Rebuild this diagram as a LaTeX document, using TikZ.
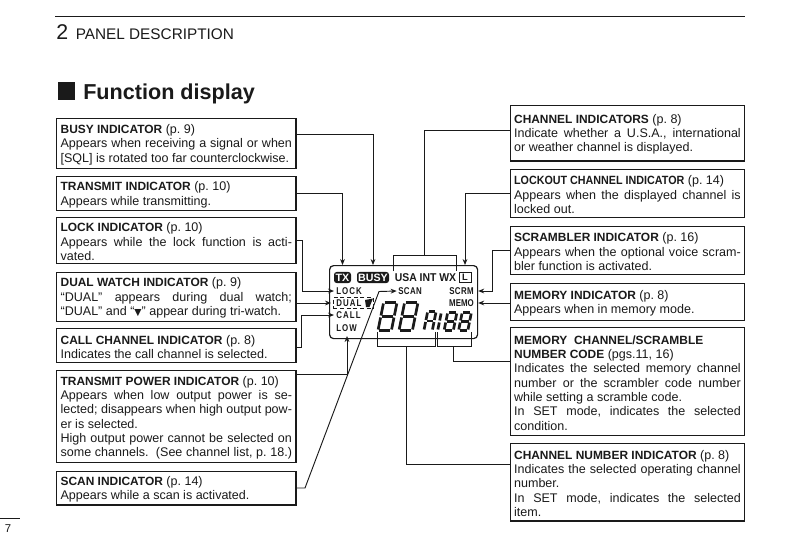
\documentclass[tikz,border=0pt]{standalone}
\usepackage{fontspec}
\usepackage{graphicx}
\setmainfont{Liberation Sans}
\newfontfamily\symf{DejaVu Sans}
\usetikzlibrary{arrows.meta}
\definecolor{ink}{HTML}{1A1A1A}
\newcommand\JL[1]{\leavevmode\hbox to \hsize{#1}\par}
\newcommand\LL[1]{\leavevmode\hbox to \hsize{#1\hss}\par}
\newcommand\HB[1]{{\fontsize{8.95}{10.75}\selectfont\bfseries #1}}
\newcommand\HD[2]{\leavevmode\hbox to \hsize{\HB{#1} #2\hss}\par}
\newcommand\lcdtxt[2][14]{\scalebox{0.8}[1]{\fontsize{7.4}{9}\selectfont\bfseries\addfontfeature{LetterSpace=#1}#2}}
\def\segT{\draw[lcdseg] (-\W+\G,-\H)--(\W-\G,-\H);}
\def\segM{\draw[lcdseg] (-\W+\G,0)--(\W-\G,0);}
\def\segB{\draw[lcdseg] (-\W+\G,\H)--(\W-\G,\H);}
\def\segLU{\draw[lcdseg] (-\W,-\H+\G)--(-\W,-\G);}
\def\segLD{\draw[lcdseg] (-\W,\G)--(-\W,\H-\G);}
\def\segRU{\draw[lcdseg] (\W,-\H+\G)--(\W,-\G);}
\def\segRD{\draw[lcdseg] (\W,\G)--(\W,\H-\G);}
\newcommand\lcddigit[5]{\begin{scope}[shift={(#1,#2)},xslant=0.2]
\def\W{#3}\def\H{#4}\def\G{1}
\foreach \s in {#5}{\csname seg\s\endcsname}
\end{scope}}
\tikzset{
 x=0.75pt,y=-0.75pt,
 infobox/.style={draw=ink,line width=0.95pt,anchor=north west,inner xsep=3pt,inner ysep=0pt,
   align=left,font=\fontsize{9.4}{10.75}\selectfont,text=ink,
   execute at begin node={\spaceskip=0pt\xspaceskip=0pt\frenchspacing\par\vspace*{-2.3pt}}},
 conn/.style={draw=ink,line width=0.7pt},
 arr/.style={conn,-{Stealth[length=4.5pt,width=3.6pt]}},
 lcdlabel/.style={inner sep=0pt,text=ink},
 lcdseg/.style={draw=ink,line width=2pt},
 pill/.style={fill=ink,text=white,rounded corners=2pt,inner sep=0pt,minimum height=8.3pt,
   font=\fontsize{8}{9}\selectfont\bfseries},
}
\begin{document}
\begin{tikzpicture}
\useasboundingbox (0,0) rectangle (793,558);
\fill[white] (0,0) rectangle (793,558);
% header
\coordinate (ruleL) at (55,16.5);
\coordinate (ruleR) at (745,16.5);
\draw[ink,line width=1.3pt] (ruleL)--(ruleR);
\node[anchor=base west,inner sep=0pt,text=ink,font=\fontsize{16}{18}\selectfont] (chap) at (56,39.3) {2};
\node[anchor=base west,inner sep=0pt,text=ink,font=\fontsize{11.5}{14}\selectfont] (chapt) at (75.5,39.3) {PANEL DESCRIPTION};
\node[anchor=north west,fill=ink,inner sep=0pt,minimum width=12.75pt,minimum height=13.5pt] (sq) at (58,82) {};
\node[anchor=base west,inner sep=0pt,text=ink,font=\fontsize{16.2}{18}\selectfont\bfseries] (title) at (83,99) {Function display};
% footer
\coordinate (fL) at (0,518.5);
\coordinate (fR) at (20,518.5);
\draw[ink,line width=0.6pt] (fL)--(fR);
\node[inner sep=0pt,text=ink,font=\fontsize{8.5}{10}\selectfont] (pg) at (8,529) {7};
% left boxes
\node[infobox,text width=173.5pt,minimum height=37.5pt] (busy) at (56,118) {%
 \HD{BUSY INDICATOR}{(p. 9)}\JL{Appears when receiving a signal or when}\LL{[SQL] is rotated too far counterclockwise.}};
\node[infobox,text width=173.5pt,minimum height=25.5pt] (tx) at (56,176) {%
 \HD{TRANSMIT INDICATOR}{(p. 10)}\LL{Appears while transmitting.}};
\node[infobox,text width=173.5pt,minimum height=34.5pt] (lock) at (56,217) {%
 \HD{LOCK INDICATOR}{(p. 10)}\JL{Appears while the lock function is acti-}\LL{vated.}};
\node[infobox,text width=173.5pt,minimum height=37pt] (dual) at (56,271.5) {%
 \HD{DUAL WATCH INDICATOR}{(p. 9)}\JL{“DUAL” appears during dual watch;}\LL{“DUAL” and “{\symf\scalebox{0.75}{▼}}” appear during tri-watch.}};
\node[infobox,text width=173.5pt,minimum height=25.5pt] (call) at (56,328) {%
 \HD{CALL CHANNEL INDICATOR}{(p. 8)}\LL{Indicates the call channel is selected.}};
\node[infobox,text width=173.5pt,minimum height=69pt] (power) at (56,370) {%
 \HD{TRANSMIT POWER INDICATOR}{(p. 10)}\JL{Appears when low output power is se-}\JL{lected; disappears when high output pow-}\LL{er is selected.}\JL{High output power cannot be selected on}\JL{some channels.\ \ (See channel list, p. 18.)}};
\node[infobox,text width=173.5pt,minimum height=25pt] (scan) at (56,471) {%
 \HD{SCAN INDICATOR}{(p. 14)}\LL{Appears while a scan is activated.}};
% right boxes
\node[infobox,text width=170pt,minimum height=41.5pt] (chan) at (509.5,105) {%
 \HD{CHANNEL INDICATORS}{(p. 8)}\JL{Indicate whether a U.S.A., international}\LL{or weather channel is displayed.}};
\node[infobox,text width=170pt,minimum height=36pt] (lockout) at (509.5,169) {%
 \leavevmode\hbox to \hsize{\scalebox{0.9}[1]{\HB{LOCKOUT CHANNEL INDICATOR}} (p. 14)\hss}\par\JL{Appears when the displayed channel is}\LL{locked out.}};
\node[infobox,text width=170pt,minimum height=36pt] (scrm) at (509.5,226) {%
 \HD{SCRAMBLER INDICATOR}{(p. 16)}\JL{Appears when the optional voice scram-}\LL{bler function is activated.}};
\node[infobox,text width=170pt,minimum height=27.5pt] (memo) at (509.5,283) {%
 \HD{MEMORY INDICATOR}{(p. 8)}\LL{Appears when in memory mode.}};
\node[infobox,text width=170pt,minimum height=81pt] (mch) at (509.5,327) {%
 \LL{\HB{MEMORY\ \ CHANNEL/SCRAMBLE}}\HD{NUMBER CODE}{(pgs.11, 16)}\JL{Indicates the selected memory channel}\JL{number or the scrambler code number}\LL{while setting a scramble code.}\JL{In SET mode, indicates the selected}\LL{condition.}};
\node[infobox,text width=170pt,minimum height=58pt] (cnum) at (509.5,443) {%
 \HD{CHANNEL NUMBER INDICATOR}{(p. 8)}\JL{Indicates the selected operating channel}\LL{number.}\JL{In SET mode, indicates the selected}\LL{item.}};
% display
\node[draw=ink,line width=0.9pt,rounded corners=3pt,anchor=north west,minimum width=111pt,minimum height=54.75pt,inner sep=0pt] (disp) at (329,265) {};
\node[pill,minimum width=12.75pt] (txi) at (342.5,277.5) {TX};
\node[pill,minimum width=24pt] (bz) at (373,277.5) {BUSY};
\node[inner sep=0pt,text=ink,font=\fontsize{8.5}{10}\selectfont\bfseries] (usa) at (425.5,277.5) {\scalebox{0.92}[1]{USA INT WX}};
\node[draw=ink,line width=0.6pt,inner sep=0pt,minimum width=9pt,minimum height=8pt,text=ink,font=\fontsize{7}{8}\selectfont\bfseries] (lk) at (465,277.5) {L};
\node[lcdlabel,anchor=west] (lockl) at (336,291) {\lcdtxt{LOCK}};
\node[lcdlabel,anchor=west] (duall) at (336,303) {\lcdtxt{DUAL}};
\node[draw=ink,densely dashed,line width=0.6pt,anchor=north west,minimum width=30pt,minimum height=8.25pt,inner sep=0pt] (dualb) at (333,297) {};
\fill[ink] (365,300)--(373,298.5)--(371.5,302)--(369.5,307)--(366,307)--cycle;
\node[lcdlabel,anchor=west] (calll) at (336,315) {\lcdtxt{CALL}};
\node[lcdlabel,anchor=west] (lowl) at (336,328) {\lcdtxt{LOW}};
\node[lcdlabel,anchor=west] (scanl) at (398,291) {\lcdtxt[5]{SCAN}};
\node[lcdlabel,anchor=east] (scrml) at (474,291) {\lcdtxt[5]{SCRM}};
\node[lcdlabel,anchor=east] (memol) at (474,303) {\lcdtxt[0]{MEMO}};
% seven-segment readout
\lcddigit{387.5}{316.5}{6.7}{14}{T,M,B,LU,LD,RU,RD}
\lcddigit{408.5}{316.5}{6.7}{14}{T,M,B,LU,LD,RU,RD}
\lcddigit{430}{321}{4.2}{9.5}{T,M,LU,LD,RU,RD}
\lcddigit{439.5}{321.5}{0}{9}{LU,LD}
\lcddigit{450.5}{321.5}{4.6}{9}{T,M,B,LU,LD,RU,RD}
\lcddigit{465}{321.5}{4.6}{9}{T,M,B,LU,LD,RU,RD}
% brackets
\coordinate (bt1) at (393,271);\coordinate (bt2) at (456,271);
\coordinate (bb1) at (377,332);\coordinate (bb2) at (435,332);
\coordinate (bc1) at (437,332);\coordinate (bc2) at (471,332);
\draw[conn] (bt1)--(393,255)-|(bt2);
\draw[conn] (bb1)--(377,346)-|(bb2);
\draw[conn] (bc1)--(437,346)-|(bc2);
% connectors left
\draw[arr] (busy.east |- 0,134) -| (bz.north |- disp.north);
\draw[arr] (tx.east |- 0,193) -| (txi.north |- disp.north);
\draw[arr] (lock.east |- 0,240) -- (302,240) |- ([xshift=-1.5pt]lockl.west);
\draw[arr] (dual.east |- 0,303) -- ([xshift=-1.5pt]dualb.west |- 0,303);
\draw[arr] (call.east |- 0,347) -- (301,347) |- ([xshift=-1.5pt]calll.west);
\draw[arr] (power.east |- 0,374) -| (347,336);
\draw[arr] (scan.east |- 0,488) -- (305,488) -- (379,291.5) -- ([xshift=-1pt]scanl.west);
% connectors right
\draw[conn] (chan.west |- 0,130) -| (424.5,255);
\draw[arr] (lockout.west |- 0,193) -| (lk.north |- disp.north);
\draw[arr] (scrm.west |- 0,250) -- (492,250) |- (disp.east |- 0,291);
\draw[arr] (memo.west |- 0,303) -- (disp.east |- 0,303);
\draw[conn] (mch.west |- 0,361) -| (453.5,346);
\draw[conn] (cnum.west |- 0,464) -| (406,346);
\end{tikzpicture}
\end{document}
